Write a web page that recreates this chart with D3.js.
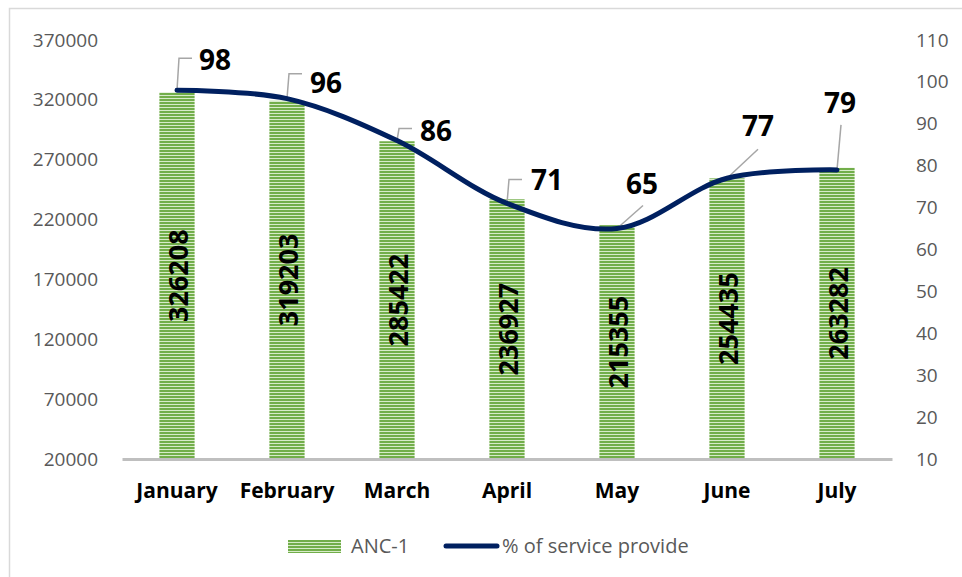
<!DOCTYPE html>
<html>
<head>
<meta charset="utf-8">
<script src="https://cdn.jsdelivr.net/npm/d3@7"></script>
<style>
  body { margin: 0; background: #fff; }
  svg { display: block; font-family: "Open Sans", sans-serif; }
</style>
</head>
<body>
<script>
// data
var months = ["January", "February", "March", "April", "May", "June", "July"];
var anc1 = [326208, 319203, 285422, 236927, 215355, 254435, 263282];
var servicePct = [98, 96, 86, 71, 65, 77, 79];
var leftTicks = [20000, 70000, 120000, 170000, 220000, 270000, 320000, 370000];
var rightTicks = [10, 20, 30, 40, 50, 60, 70, 80, 90, 100, 110];

// where each % label sits relative to its point, and its leader line
var pctLabelOffset = [[38, -20], [39, -6], [39, 0], [40, -13], [25, -35], [31, -42], [3, -57]];
var pctLeader = [
  [[0, 0], [2, -32], [15, -32]],
  [[0, 0], [2, -25], [15, -25]],
  [[0, 0], [2, -12], [15, -12]],
  [[0, 0], [2, -24], [15, -24]],
  [[0, 0], [26, -23]],
  [[0, 0], [31, -29]],
  [[0, 0], [4, -45]]
];

var width = 962, height = 577;
var plotLeft = 122, plotRight = 892, plotTop = 40, plotBottom = 459;

var svg = d3.select("body").append("svg")
    .attr("width", width)
    .attr("height", height);

// chart frame
svg.append("rect")
  .attr("x", 9.5).attr("y", 8.5)
  .attr("width", 1000).attr("height", 1000)
  .attr("fill", "none")
  .attr("stroke", "#d9d9d9")
  .attr("stroke-width", 1.5);

// striped fill for the bars
var defs = svg.append("defs");
var pat = defs.append("pattern")
  .attr("id", "stripes")
  .attr("patternUnits", "userSpaceOnUse")
  .attr("width", 8).attr("height", 3);
pat.append("rect").attr("width", 8).attr("height", 3).attr("fill", "#72ae4a");
pat.append("rect").attr("y", 2).attr("width", 8).attr("height", 1).attr("fill", "#d7ebc9");

var x = d3.scaleBand()
  .domain(months)
  .range([plotLeft, plotRight])
  .paddingInner(0.68)
  .paddingOuter(0.34);

var yLeft = d3.scaleLinear().domain([20000, 370000]).range([plotBottom, plotTop]);
var yRight = d3.scaleLinear().domain([10, 110]).range([plotBottom, plotTop]);

// left axis
var leftAxis = svg.append("g")
  .attr("transform", "translate(98,0)")
  .call(d3.axisLeft(yLeft).tickValues(leftTicks).tickSize(0).tickPadding(0).tickFormat(d3.format("d")));
leftAxis.select(".domain").remove();
leftAxis.selectAll("text")
  .attr("fill", "#595959")
  .style("font-size", "19px")
  .style("font-family", "'Open Sans', sans-serif");

// right axis
var rightAxis = svg.append("g")
  .attr("transform", "translate(916,0)")
  .call(d3.axisRight(yRight).tickValues(rightTicks).tickSize(0).tickPadding(0));
rightAxis.select(".domain").remove();
rightAxis.selectAll("text")
  .attr("fill", "#595959")
  .style("font-size", "19px")
  .style("font-family", "'Open Sans', sans-serif");

// bars
var bars = svg.append("g");
bars.selectAll("rect")
  .data(anc1)
  .enter()
  .append("rect")
  .attr("x", function(d, i) { return x(months[i]); })
  .attr("y", function(d) { return yLeft(d); })
  .attr("width", x.bandwidth())
  .attr("height", function(d) { return plotBottom - yLeft(d); })
  .attr("fill", "url(#stripes)");

// bar value labels, rotated
bars.selectAll("text")
  .data(anc1)
  .enter()
  .append("text")
  .attr("transform", function(d, i) {
    var cx = x(months[i]) + x.bandwidth() / 2;
    var cy = (yLeft(d) + plotBottom) / 2;
    return "translate(" + cx + "," + cy + ") rotate(-90)";
  })
  .attr("text-anchor", "middle")
  .attr("dominant-baseline", "central")
  .attr("fill", "#000")
  .style("font-size", "27px")
  .style("font-weight", "bold")
  .text(function(d) { return d; });

// x axis line
var bottomAxis = svg.append("g")
  .attr("transform", "translate(0," + plotBottom + ")")
  .call(d3.axisBottom(x).tickSize(0).tickPadding(24));
bottomAxis.select(".domain")
  .attr("stroke", "#bfbfbf")
  .attr("stroke-width", 3);
bottomAxis.selectAll("text")
  .attr("fill", "#000")
  .style("font-size", "21px")
  .style("font-weight", "bold")
  .style("font-family", "'Open Sans', sans-serif");

// % line
var pts = servicePct.map(function(v, i) {
  return [x(months[i]) + x.bandwidth() / 2, yRight(v)];
});

var line = d3.line().curve(d3.curveCatmullRom.alpha(0.5));

// leader lines
var leaders = svg.append("g");
leaders.selectAll("path")
  .data(pctLeader)
  .enter()
  .append("path")
  .attr("d", function(d, i) {
    return d3.line()(d.map(function(p) { return [pts[i][0] + p[0], pts[i][1] + p[1]]; }));
  })
  .attr("fill", "none")
  .attr("stroke", "#a6a6a6")
  .attr("stroke-width", 1.5);

svg.append("path")
  .attr("d", line(pts))
  .attr("fill", "none")
  .attr("stroke", "#002060")
  .attr("stroke-width", 5)
  .attr("stroke-linecap", "round");

svg.append("g").selectAll("text")
  .data(servicePct)
  .enter()
  .append("text")
  .attr("x", function(d, i) { return pts[i][0] + pctLabelOffset[i][0]; })
  .attr("y", function(d, i) { return pts[i][1] + pctLabelOffset[i][1]; })
  .attr("text-anchor", "middle")
  .attr("fill", "#000")
  .style("font-size", "28px")
  .style("font-weight", "bold")
  .text(function(d) { return d; });

// legend
var legend = svg.append("g");
legend.append("rect")
  .attr("x", 288).attr("y", 540)
  .attr("width", 53).attr("height", 13)
  .attr("fill", "url(#stripes)");
legend.append("text")
  .attr("x", 351).attr("y", 553)
  .attr("fill", "#595959")
  .style("font-size", "20px")
  .text("ANC-1");
legend.append("line")
  .attr("x1", 446).attr("x2", 497)
  .attr("y1", 546).attr("y2", 546)
  .attr("stroke", "#002060")
  .attr("stroke-width", 5)
  .attr("stroke-linecap", "round");
legend.append("text")
  .attr("x", 502).attr("y", 553)
  .attr("fill", "#595959")
  .style("font-size", "20px")
  .text("% of service provide");
</script>
</body>
</html>
